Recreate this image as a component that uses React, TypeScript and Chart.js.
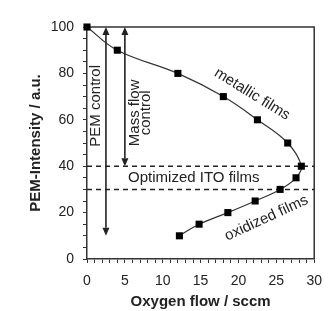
import { useEffect, useRef } from 'react';
import { Chart, registerables } from 'chart.js';

Chart.register(...registerables);

// Data
const oxygenFlow = [0, 4, 12, 18, 22.5, 26.5, 28.3, 27.6, 25.5, 22.2, 18.6, 14.8, 12.2];
const pemIntensity = [100, 90, 80, 70, 60, 50, 40, 35, 30, 25, 20, 15, 10];
const xTickLabels = [0, 5, 10, 15, 20, 25, 30];
const yTickLabels = [0, 20, 40, 60, 80, 100];
const windowLevels = [40, 30];
const arrowFlow = [2.5, 5];
const arrowFrom = [100, 100];
const arrowTo = [10, 40];
const arrowText = [['PEM control'], ['Mass flow', 'control']];
const arrowTextX = [1.15, 7.1];
const arrowTextY = [66, 63];
const regionText = ['metallic films', 'Optimized ITO films', 'oxidized films'];
const regionX = [21.8, 14.1, 23.7];
const regionY = [71, 35, 17.6];
const regionAngle = [31.6, 0, -24.7];

const FONT = "'Liberation Sans', Arial, sans-serif";
const INK = '#222';

const annotationPlugin = {
  id: 'annotations',
  beforeDatasetsDraw(chart: any) {
    const { ctx, chartArea, scales } = chart;
    const xs = scales.x;
    const ys = scales.y;
    ctx.save();
    // frame top & right
    ctx.strokeStyle = '#333';
    ctx.lineWidth = 1.5;
    ctx.beginPath();
    ctx.moveTo(chartArea.left, chartArea.top);
    ctx.lineTo(chartArea.right, chartArea.top);
    ctx.lineTo(chartArea.right, chartArea.bottom);
    ctx.stroke();
    // dashed levels
    ctx.setLineDash([5, 4]);
    ctx.strokeStyle = INK;
    ctx.lineWidth = 1.5;
    windowLevels.forEach((lv) => {
      const py = ys.getPixelForValue(lv);
      ctx.beginPath();
      ctx.moveTo(xs.getPixelForValue(0), py);
      ctx.lineTo(xs.getPixelForValue(30), py);
      ctx.stroke();
    });
    ctx.setLineDash([]);
    ctx.restore();
  },
  afterDatasetsDraw(chart: any) {
    const { ctx, scales } = chart;
    const xs = scales.x;
    const ys = scales.y;
    ctx.save();
    // double-headed arrows
    ctx.strokeStyle = INK;
    ctx.fillStyle = INK;
    ctx.lineWidth = 1.6;
    const head = 8;
    const half = 3.5;
    arrowFlow.forEach((fx, i) => {
      const px = xs.getPixelForValue(fx);
      const y1 = ys.getPixelForValue(arrowFrom[i]);
      const y2 = ys.getPixelForValue(arrowTo[i]);
      ctx.beginPath();
      ctx.moveTo(px, y1 + head);
      ctx.lineTo(px, y2 - head);
      ctx.stroke();
      ctx.beginPath();
      ctx.moveTo(px, y1);
      ctx.lineTo(px - half, y1 + head);
      ctx.lineTo(px + half, y1 + head);
      ctx.closePath();
      ctx.fill();
      ctx.beginPath();
      ctx.moveTo(px, y2);
      ctx.lineTo(px - half, y2 - head);
      ctx.lineTo(px + half, y2 - head);
      ctx.closePath();
      ctx.fill();
    });
    // arrow labels (vertical)
    ctx.font = `15px ${FONT}`;
    ctx.textAlign = 'center';
    ctx.textBaseline = 'middle';
    const lineGap = 11;
    arrowText.forEach((lines, i) => {
      const cx = xs.getPixelForValue(arrowTextX[i]);
      const cy = ys.getPixelForValue(arrowTextY[i]);
      ctx.save();
      ctx.translate(cx, cy);
      ctx.rotate(-Math.PI / 2);
      lines.forEach((t, j) => {
        const off = (j - (lines.length - 1) / 2) * lineGap;
        ctx.fillText(t, 0, off);
      });
      ctx.restore();
    });
    // region labels
    regionText.forEach((t, i) => {
      const cx = xs.getPixelForValue(regionX[i]);
      const cy = ys.getPixelForValue(regionY[i]);
      ctx.save();
      ctx.translate(cx, cy);
      ctx.rotate((regionAngle[i] * Math.PI) / 180);
      ctx.fillText(t, 0, 0);
      ctx.restore();
    });
    ctx.restore();
  },
};

export default function App() {
  const canvasRef = useRef<HTMLCanvasElement | null>(null);

  useEffect(() => {
    if (!canvasRef.current) return;
    const chart = new Chart(canvasRef.current, {
      type: 'scatter',
      data: {
        datasets: [
          {
            data: oxygenFlow.map((x, i) => ({ x, y: pemIntensity[i] })),
            showLine: true,
            borderColor: '#333',
            borderWidth: 1.2,
            tension: 0.4,
            pointStyle: 'rect',
            pointRadius: 5,
            pointBackgroundColor: '#000',
            pointBorderColor: '#000',
            pointBorderWidth: 0,
            clip: false,
          } as any,
        ],
      },
      options: {
        responsive: false,
        animation: false,
        events: [],
        layout: { padding: { top: 27, right: 11, left: 0, bottom: 0 } },
        plugins: { legend: { display: false }, tooltip: { enabled: false } },
        scales: {
          x: {
            type: 'linear',
            min: 0,
            max: 30,
            afterFit: (s: any) => { s.height = 52; },
            grid: { display: true, drawOnChartArea: false, drawTicks: true, tickLength: 4, color: '#333', lineWidth: 1 },
            border: { display: true, color: '#333', width: 1.5 },
            ticks: {
              stepSize: 1,
              autoSkip: false,
              maxRotation: 0,
              padding: 10,
              color: INK,
              font: { family: FONT, size: 14 },
              callback: (v: any) => (xTickLabels.includes(Number(v)) ? String(v) : ''),
            },
            title: {
              display: true,
              text: 'Oxygen flow / sccm',
              color: INK,
              font: { family: FONT, size: 15, weight: 'bold' },
              padding: { top: 0, bottom: 0 },
            },
          },
          y: {
            type: 'linear',
            min: 0,
            max: 100,
            afterFit: (s: any) => { s.width = 87; },
            grid: { display: true, drawOnChartArea: false, drawTicks: true, tickLength: 4, color: '#333', lineWidth: 1 },
            border: { display: true, color: '#333', width: 1.5 },
            ticks: {
              stepSize: 5,
              autoSkip: false,
              padding: 9,
              color: INK,
              font: { family: FONT, size: 14 },
              callback: (v: any) => (yTickLabels.includes(Number(v)) ? String(v) : ''),
            },
            title: {
              display: true,
              text: 'PEM-Intensity / a.u.',
              color: INK,
              font: { family: FONT, size: 15, weight: 'bold' },
              padding: { top: 27, bottom: 0 },
            },
          },
        },
      },
      plugins: [annotationPlugin],
    });
    return () => chart.destroy();
  }, []);

  return (
    <div style={{ position: 'absolute', left: 0, top: 0, width: 332, height: 311, background: '#fff' }}>
      <canvas ref={canvasRef} width={332} height={311} />
    </div>
  );
}
